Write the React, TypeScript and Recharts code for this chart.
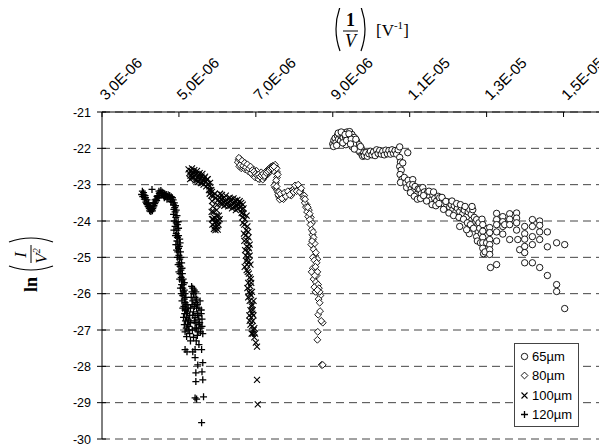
import { ScatterChart, Scatter, XAxis, YAxis, CartesianGrid, Legend } from "recharts";

// x values are in units of 1E-06 V^-1, y values are ln(I/V^2)
const s65: [number, number][] = [
  [9.0, -21.88], [9.03, -21.78], [9.06, -21.72], [9.08, -21.85], [9.12, -21.65], [9.15, -21.75],
  [9.18, -21.62], [9.2, -21.8], [9.24, -21.6], [9.27, -21.7], [9.3, -21.58], [9.33, -21.68],
  [9.37, -21.55], [9.4, -21.65], [9.44, -21.54], [9.46, -21.72], [9.5, -21.62], [9.52, -21.82],
  [9.56, -21.7], [9.58, -21.92], [9.62, -21.8], [9.64, -22.0], [9.68, -21.9], [9.7, -22.1],
  [9.74, -22.0], [9.76, -22.18], [9.8, -22.12], [9.4, -21.8], [9.34, -21.9], [9.5, -21.95],
  [9.02, -21.95], [9.1, -21.92], [9.14, -21.58], [9.22, -21.55], [9.26, -21.85], [9.32, -21.62],
  [9.36, -21.78], [9.42, -21.6], [9.48, -21.75], [9.54, -21.88], [9.6, -21.75], [9.66, -22.05],
  [9.72, -21.95], [9.78, -22.22], [9.46, -21.88], [9.56, -22.02],
  [9.82, -22.2], [9.86, -22.12], [9.9, -22.22], [9.94, -22.15], [9.98, -22.08], [10.02, -22.18],
  [10.06, -22.1], [10.1, -22.2], [10.14, -22.04], [10.18, -22.14], [10.22, -22.06], [10.26, -22.16],
  [10.3, -22.08], [10.34, -22.18], [10.38, -22.05], [10.42, -22.15], [10.46, -22.06], [10.5, -22.16],
  [10.54, -22.04], [10.58, -22.14], [10.62, -22.06], [10.66, -22.16], [10.7, -22.04], [10.74, -21.96],
  [10.95, -22.12], [10.74, -22.25], [10.76, -22.38], [10.74, -22.5], [10.78, -22.6], [10.75, -22.72],
  [10.8, -22.85], [10.76, -22.94], [10.82, -22.4], [10.86, -22.8], [10.9, -22.95], [10.92, -23.08],
  [10.96, -22.88], [11.0, -23.0], [11.04, -23.12], [11.08, -22.86], [11.08, -23.0], [11.1, -23.18],
  [11.14, -23.05], [11.18, -23.27], [11.22, -23.12], [11.26, -23.13], [11.3, -23.25], [11.34, -23.08],
  [11.38, -23.2], [11.42, -23.32], [11.46, -23.22], [11.52, -23.33], [11.56, -23.42], [11.6, -23.28],
  [11.65, -23.38], [11.7, -23.45], [11.74, -23.32], [11.78, -23.36], [11.82, -23.5], [11.86, -23.42],
  [11.9, -23.55], [11.96, -23.6], [12.0, -23.48], [12.04, -23.62], [12.08, -23.55], [12.12, -23.69],
  [12.16, -23.58], [12.2, -23.75], [12.24, -23.65], [12.3, -23.74], [12.34, -23.62], [12.38, -23.8],
  [12.42, -23.7], [12.48, -23.88], [12.52, -23.75], [12.56, -23.68], [12.6, -23.82], [12.64, -23.69],
  [12.68, -23.9], [12.7, -24.05], [12.74, -23.96], [12.74, -24.15], [12.78, -24.3], [12.74, -24.43],
  [11.02, -23.22], [11.12, -23.32], [11.2, -23.4], [11.28, -23.38], [11.36, -23.3], [11.44, -23.45],
  [11.5, -23.18], [11.58, -23.55], [11.62, -23.2], [11.68, -23.58], [11.76, -23.52], [11.84, -23.35],
  [11.88, -23.68], [11.94, -23.46], [12.02, -23.78], [12.1, -23.45], [12.14, -23.85], [12.22, -23.52],
  [12.28, -23.9], [12.32, -23.55], [12.4, -23.95], [12.44, -23.6], [12.5, -24.05], [12.58, -24.1],
  [12.62, -23.6], [12.66, -24.2], [12.76, -24.55], [12.8, -24.05], [12.84, -24.6], [12.88, -23.95],
  [12.92, -24.9], [12.96, -24.2], [13.0, -24.4], [12.3, -24.15], [12.55, -24.35],
  [12.82, -24.2], [12.86, -24.35], [12.48, -24.24], [12.9, -24.1], [12.9, -24.28], [12.9, -24.45],
  [12.9, -24.6], [12.9, -24.75], [13.0, -24.6], [12.96, -24.85], [13.08, -24.18], [13.08, -24.32],
  [13.08, -24.51], [13.08, -24.65], [13.08, -24.79], [13.08, -24.92], [13.1, -25.28], [13.26, -23.79],
  [13.26, -23.96], [13.26, -24.1], [13.26, -24.3], [13.26, -24.55], [13.26, -25.2], [13.42, -23.88],
  [13.42, -24.02], [13.42, -24.15], [13.42, -24.36], [13.47, -24.1], [13.6, -23.8], [13.6, -23.95],
  [13.6, -24.1], [13.6, -24.51], [13.78, -23.78], [13.78, -23.92], [13.78, -24.05], [13.78, -24.25],
  [13.81, -24.51], [13.86, -24.79], [13.99, -24.15], [13.99, -24.35], [13.99, -24.5], [13.99, -24.7],
  [13.99, -24.87], [13.99, -25.15], [14.19, -23.96], [14.19, -24.15], [14.19, -24.43], [14.19, -24.65],
  [14.19, -25.15], [14.38, -24.0], [14.38, -24.12], [14.38, -24.3], [14.38, -24.51], [14.38, -25.28],
  [14.58, -24.3], [14.58, -24.71], [14.58, -25.5], [14.82, -24.6], [15.03, -24.65], [14.82, -25.75],
  [14.82, -25.94], [15.03, -26.41],
];

const s80: [number, number][] = [
  [6.55, -22.31], [6.58, -22.4], [6.6, -22.3], [6.63, -22.45], [6.66, -22.38], [6.7, -22.5],
  [6.73, -22.42], [6.76, -22.55], [6.8, -22.48], [6.84, -22.6], [6.88, -22.55], [6.92, -22.65],
  [6.96, -22.7], [7.0, -22.75], [7.04, -22.68], [7.08, -22.78], [7.12, -22.72], [7.16, -22.8],
  [7.2, -22.75], [7.24, -22.68], [7.28, -22.62], [7.32, -22.58], [7.36, -22.55], [7.4, -22.5],
  [7.44, -22.48], [7.48, -22.55], [7.52, -22.52], [7.55, -22.65], [6.62, -22.55], [6.9, -22.72],
  [7.1, -22.85], [7.3, -22.72], [7.55, -22.8], [7.52, -22.95], [7.5, -23.08], [7.55, -23.15],
  [6.53, -22.38], [6.57, -22.5], [6.61, -22.36], [6.65, -22.52], [6.68, -22.44], [6.72, -22.58],
  [6.75, -22.46], [6.79, -22.62], [6.83, -22.52], [6.87, -22.68], [6.94, -22.58], [6.98, -22.8],
  [7.02, -22.62], [7.06, -22.84], [7.14, -22.66], [7.18, -22.86], [7.22, -22.8], [7.26, -22.74],
  [7.34, -22.65], [7.38, -22.62], [7.42, -22.58], [7.46, -22.62], [7.5, -22.45], [7.54, -22.55],
  [6.56, -22.26], [6.59, -22.46], [6.64, -22.34], [6.67, -22.48], [6.71, -22.4], [6.74, -22.52],
  [6.78, -22.44], [6.82, -22.56], [6.86, -22.5], [6.91, -22.6], [6.95, -22.64], [6.99, -22.7],
  [7.03, -22.74], [7.07, -22.72], [7.11, -22.78], [7.15, -22.74], [7.19, -22.7], [7.23, -22.76],
  [7.27, -22.68], [7.31, -22.64], [7.35, -22.6], [7.39, -22.56], [7.43, -22.54], [7.47, -22.5],
  [7.57, -22.72], [7.53, -22.88], [7.48, -23.02], [7.54, -23.05], [7.57, -23.2], [7.6, -23.34],
  [7.58, -23.28], [7.62, -23.41], [7.66, -23.35], [7.7, -23.27], [7.75, -23.3], [7.8, -23.22],
  [7.85, -23.25], [7.9, -23.18], [7.95, -23.15], [8.0, -23.1], [8.04, -23.14], [8.08, -23.05],
  [8.12, -23.1], [8.16, -23.15], [7.6, -23.2], [7.72, -23.4], [7.92, -23.3], [8.2, -23.25],
  [7.64, -23.25], [7.68, -23.38], [7.74, -23.22], [7.78, -23.32], [7.83, -23.18], [7.88, -23.28],
  [7.98, -23.2], [8.02, -23.02], [8.06, -23.18], [8.1, -23.0], [8.14, -23.2], [8.18, -23.1],
  [8.22, -23.3], [8.26, -23.3], [8.32, -23.55], [8.38, -23.7], [8.43, -23.9], [8.46, -24.05],
  [8.24, -23.38], [8.27, -23.5], [8.3, -23.62], [8.33, -23.75], [8.36, -23.88], [8.4, -23.96],
  [8.42, -24.1], [8.45, -24.24], [8.47, -24.38], [8.48, -24.51], [8.44, -24.65], [8.53, -24.62],
  [8.49, -24.3], [8.5, -24.45], [8.46, -24.55], [8.54, -24.95], [8.6, -25.05], [8.48, -25.3],
  [8.5, -24.78], [8.56, -24.87], [8.48, -25.0], [8.52, -25.08], [8.58, -25.15], [8.55, -25.26],
  [8.45, -25.4], [8.58, -25.5], [8.5, -25.6], [8.56, -25.68], [8.62, -25.75], [8.52, -25.82],
  [8.6, -25.4], [8.53, -25.5], [8.64, -25.85], [8.55, -25.95], [8.68, -26.05], [8.63, -26.15],
  [8.66, -25.95], [8.6, -25.9], [8.66, -26.25], [8.62, -26.58], [8.74, -26.8], [8.7, -26.75],
  [8.67, -26.48], [8.61, -27.05], [8.6, -27.27], [8.71, -27.96], [8.74, -27.96], [8.28, -23.4],
  [8.35, -23.62], [8.4, -23.8],
];

const s100: [number, number][] = [
  [5.27, -22.68], [5.31, -22.62], [5.35, -22.72], [5.38, -22.66], [5.42, -22.75], [5.45, -22.7],
  [5.49, -22.8], [5.52, -22.74], [5.56, -22.84], [5.59, -22.78], [5.63, -22.88], [5.66, -22.82],
  [5.7, -22.92], [5.73, -22.86], [5.76, -22.98], [5.79, -23.05], [5.33, -22.82], [5.47, -22.88],
  [5.61, -22.95], [5.3, -22.75], [5.25, -22.58], [5.29, -22.85], [5.34, -22.55], [5.37, -22.8],
  [5.4, -22.6], [5.43, -22.88], [5.47, -22.62], [5.5, -22.92], [5.54, -22.68], [5.57, -22.96],
  [5.61, -22.7], [5.64, -23.0], [5.68, -22.78], [5.71, -23.05], [5.75, -22.85], [5.78, -23.15],
  [5.81, -22.95], [5.84, -23.15], [5.8, -23.25], [5.82, -23.15], [5.84, -23.3], [5.86, -23.45],
  [5.88, -23.6], [5.9, -23.75], [5.92, -23.9], [5.94, -24.05], [5.96, -24.18], [6.0, -24.15],
  [6.02, -24.0], [6.04, -23.85], [5.98, -23.7], [6.0, -23.55], [5.87, -24.1], [5.91, -24.22],
  [5.85, -23.75], [5.89, -23.95], [5.93, -24.15], [5.97, -24.0], [5.99, -23.85], [6.03, -24.1],
  [6.06, -23.95], [5.95, -24.25], [6.01, -24.24], [5.86, -23.95], [6.05, -23.35], [6.1, -23.4],
  [6.15, -23.38], [6.2, -23.45], [6.25, -23.42], [6.3, -23.48], [6.35, -23.45], [6.4, -23.52],
  [6.45, -23.5], [6.5, -23.58], [6.55, -23.55], [6.6, -23.62], [6.64, -23.68], [6.08, -23.52],
  [6.18, -23.58], [6.28, -23.6], [6.38, -23.65], [6.48, -23.7], [5.95, -23.38], [5.9, -23.3],
  [6.12, -23.28], [6.32, -23.36], [6.52, -23.42], [6.62, -23.5], [5.86, -23.2], [5.93, -23.25],
  [6.07, -23.25], [6.14, -23.52], [6.22, -23.3], [6.24, -23.55], [6.34, -23.58], [6.42, -23.38],
  [6.44, -23.62], [6.54, -23.66], [6.58, -23.45], [6.66, -23.55], [6.68, -23.65], [6.63, -23.78],
  [6.02, -23.42], [6.16, -23.48], [6.26, -23.5], [6.36, -23.4], [6.46, -23.44], [6.56, -23.48],
  [6.68, -23.8], [6.72, -23.95], [6.7, -24.1], [6.75, -24.25], [6.73, -24.4], [6.78, -24.55],
  [6.76, -24.7], [6.8, -24.85], [6.78, -25.0], [6.82, -25.12], [6.8, -24.3], [6.84, -24.65],
  [6.72, -24.8], [6.77, -25.2], [6.71, -25.26], [6.65, -23.9], [6.76, -23.85], [6.66, -24.05],
  [6.78, -24.15], [6.69, -24.35], [6.81, -24.45], [6.7, -24.55], [6.82, -24.75], [6.74, -24.95],
  [6.84, -24.95], [6.75, -25.1], [6.86, -25.2], [6.76, -25.35], [6.82, -25.45], [6.88, -25.7],
  [6.78, -25.85], [6.9, -25.95], [6.8, -26.1], [6.92, -26.45], [6.84, -26.75], [6.94, -26.6],
  [6.86, -26.85], [6.96, -26.95], [6.89, -27.1], [6.98, -27.1], [6.79, -25.4], [6.84, -25.55],
  [6.8, -25.7], [6.86, -25.8], [6.82, -25.95], [6.88, -26.05], [6.84, -26.2], [6.9, -26.3],
  [6.86, -26.45], [6.91, -26.55], [6.88, -26.65], [6.92, -26.75], [6.9, -26.9], [6.94, -27.0],
  [6.92, -27.1], [6.96, -27.2], [7.0, -27.35], [7.03, -27.46], [6.85, -26.0], [6.89, -26.35],
  [6.83, -26.6], [6.87, -25.6], [6.94, -26.2], [7.03, -28.37], [7.05, -29.05],
];

const s120: [number, number][] = [
  [4.03, -23.27], [4.06, -23.33], [4.08, -23.22], [4.1, -23.4], [4.12, -23.3], [4.14, -23.48],
  [4.17, -23.42], [4.18, -23.55], [4.21, -23.5], [4.22, -23.62], [4.24, -23.72], [4.25, -23.58],
  [4.26, -23.67], [4.29, -23.69], [4.3, -23.58], [4.32, -23.66], [4.33, -23.62], [4.34, -23.5],
  [4.37, -23.52], [4.38, -23.42], [4.41, -23.4], [4.43, -23.32], [4.45, -23.3], [4.48, -23.18],
  [4.49, -23.24], [4.51, -23.22], [4.55, -23.26], [4.56, -23.2], [4.6, -23.3], [4.63, -23.25],
  [4.65, -23.33], [4.7, -23.34], [4.72, -23.28], [4.74, -23.36], [4.78, -23.4], [4.8, -23.33],
  [4.82, -23.48], [4.85, -23.42], [4.86, -23.56], [4.89, -23.63], [4.3, -23.13],
  [4.05, -23.18], [4.09, -23.28], [4.13, -23.36], [4.16, -23.52], [4.2, -23.6], [4.23, -23.66],
  [4.27, -23.74], [4.31, -23.72], [4.35, -23.58], [4.39, -23.48], [4.42, -23.44], [4.46, -23.36],
  [4.5, -23.3], [4.53, -23.16], [4.58, -23.22], [4.62, -23.36], [4.67, -23.27], [4.69, -23.4],
  [4.76, -23.3], [4.79, -23.46], [4.83, -23.36], [4.88, -23.5], [4.91, -23.58], [4.87, -23.68],
  [4.93, -23.7], [4.9, -23.75], [4.92, -23.9], [4.93, -24.05], [4.9, -24.15], [4.95, -24.25],
  [4.93, -24.35], [4.96, -24.45], [4.95, -24.55], [4.97, -24.65], [4.99, -24.75], [4.97, -24.85],
  [5.0, -24.95], [5.02, -25.05], [5.01, -25.15], [5.03, -25.25], [5.05, -25.35], [5.03, -25.45],
  [5.06, -25.55], [5.08, -25.65], [5.07, -25.75], [5.1, -25.85], [5.12, -25.95], [5.1, -26.05],
  [5.14, -26.15], [5.16, -26.25], [5.13, -26.35], [5.18, -26.45], [5.15, -26.55], [5.2, -26.65],
  [5.17, -26.75], [5.22, -26.85], [5.19, -26.95], [5.16, -26.45], [5.21, -26.3], [4.96, -24.1],
  [4.99, -24.4], [5.01, -24.7], [5.05, -25.0], [5.08, -25.3], [5.11, -25.6], [5.14, -25.9],
  [5.18, -26.1], [5.22, -26.5], [5.24, -26.7], [4.86, -23.82], [4.95, -23.85], [4.88, -24.0],
  [4.98, -24.02], [4.87, -24.25], [4.99, -24.2], [4.91, -24.4], [5.02, -24.5], [4.92, -24.65],
  [5.03, -24.6], [4.94, -24.8], [5.04, -24.85], [4.96, -25.0], [5.07, -25.15], [4.98, -25.2],
  [5.09, -25.45], [5.0, -25.4], [5.11, -25.75], [5.02, -25.6], [5.14, -25.7], [5.04, -25.85],
  [5.16, -26.0], [5.06, -26.0], [5.18, -26.3], [5.08, -26.2], [5.2, -26.55], [5.1, -26.4],
  [5.24, -26.4], [5.12, -26.65], [5.26, -26.75], [5.14, -26.85], [5.24, -27.0], [5.16, -27.05],
  [5.28, -27.1], [5.3, -26.8], [5.33, -25.8], [5.36, -25.85], [5.4, -25.9], [5.38, -26.0],
  [5.42, -26.1], [5.36, -26.2], [5.44, -26.25], [5.4, -26.35], [5.46, -26.4], [5.38, -26.5],
  [5.48, -26.55], [5.42, -26.65], [5.5, -26.7], [5.44, -26.8], [5.52, -26.85], [5.46, -26.95],
  [5.5, -27.05], [5.55, -26.2], [5.58, -26.45], [5.6, -26.7], [5.57, -26.95], [5.62, -27.1],
  [5.32, -26.1], [5.3, -26.4], [5.28, -26.6], [5.26, -26.9], [5.34, -25.95], [5.44, -25.95],
  [5.46, -26.15], [5.34, -26.3], [5.48, -26.3], [5.36, -26.6], [5.52, -26.6], [5.4, -26.75],
  [5.54, -26.8], [5.42, -26.95], [5.48, -27.15], [5.56, -27.05], [5.6, -26.9], [5.58, -26.55],
  [5.52, -26.4], [5.35, -27.0], [5.38, -27.2], [5.45, -27.3], [5.52, -27.4], [5.3, -27.3],
  [5.2, -27.18], [5.16, -27.54], [5.21, -27.6], [5.36, -27.6], [5.42, -27.54], [5.59, -27.54],
  [5.42, -27.76], [5.49, -27.96], [5.62, -27.9], [5.44, -28.18], [5.6, -28.15], [5.44, -28.42],
  [5.62, -28.37], [5.42, -28.87], [5.46, -28.9], [5.64, -28.84], [5.59, -29.55],
];

const seriesNames = ["65µm", "80µm", "100µm", "120µm"];
const xTicks = [3, 5, 7, 9, 11, 13, 15];
const yTicks = [-30, -29, -28, -27, -26, -25, -24, -23, -22, -21];

const toPts = (a: [number, number][]) => a.map(([x, y]) => ({ x, y }));

const fmtX = (v: number) =>
  v >= 10 ? `${(v / 10).toFixed(1).replace(".", ",")}E-05` : `${v.toFixed(1).replace(".", ",")}E-06`;

const FONT = "'Liberation Sans', Arial, sans-serif";
const SERIF = "'Liberation Serif', 'Times New Roman', serif";

const Ring = (p: any) => <circle cx={p.cx} cy={p.cy} r={3.2} fill="#fff" stroke="#000" strokeWidth={0.9} />;
const Diamond = (p: any) => (
  <path
    d={`M${p.cx} ${p.cy - 3.4}L${p.cx + 3.4} ${p.cy}L${p.cx} ${p.cy + 3.4}L${p.cx - 3.4} ${p.cy}Z`}
    fill="#fff"
    stroke="#000"
    strokeWidth={0.9}
  />
);
const Cross = (p: any) => (
  <path
    d={`M${p.cx - 3} ${p.cy - 3}L${p.cx + 3} ${p.cy + 3}M${p.cx + 3} ${p.cy - 3}L${p.cx - 3} ${p.cy + 3}`}
    stroke="#000"
    strokeWidth={1.1}
  />
);
const Plus = (p: any) => (
  <path
    d={`M${p.cx - 3.5} ${p.cy}L${p.cx + 3.5} ${p.cy}M${p.cx} ${p.cy - 3.5}L${p.cx} ${p.cy + 3.5}`}
    stroke="#000"
    strokeWidth={1.3}
  />
);
const shapes = [Ring, Diamond, Cross, Plus];

const XTick = ({ x, y, payload }: any) => (
  <g>
    <line x1={x} y1={y} x2={x} y2={y + 5} stroke="#000" />
    <text
      x={x + 4}
      y={y - 11}
      transform={`rotate(-45 ${x + 4} ${y - 11})`}
      fontSize={15}
      fontFamily={FONT}
      fill="#000"
    >
      {fmtX(payload.value)}
    </text>
  </g>
);

const YTick = ({ x, y, payload }: any) => (
  <g>
    <line x1={x - 5} y1={y} x2={x + 4} y2={y} stroke="#000" />
    <text x={x - 11} y={y + 4.5} textAnchor="end" fontSize={12.5} fontFamily={FONT} fill="#000">
      {payload.value}
    </text>
  </g>
);

const LegendBox = () => (
  <div
    style={{
      border: "1px solid #444",
      background: "#fff",
      padding: "3px 5px 2px 5px",
      fontFamily: FONT,
      fontSize: 13,
      lineHeight: "19.3px",
      color: "#000",
      width: 53,
    }}
  >
    {seriesNames.map((n, i) => {
      const S = shapes[i];
      return (
        <div key={n} style={{ display: "flex", alignItems: "center", whiteSpace: "nowrap" }}>
          <svg width={9} height={9} style={{ marginRight: 3 }}>
            <S cx={4.5} cy={4.5} />
          </svg>
          {n}
        </div>
      );
    })}
  </div>
);

export default function App() {
  const sets = [s65, s80, s100, s120];
  return (
    <div style={{ position: "relative", width: 599, height: 438 }}>
      <ScatterChart width={599} height={438} margin={{ top: 0, right: 5, bottom: 7, left: 0 }}>
        <CartesianGrid horizontal vertical={false} stroke="#444" strokeDasharray="8 5" />
        <XAxis
          dataKey="x"
          type="number"
          orientation="top"
          domain={[3, 16]}
          ticks={xTicks}
          height={104}
          tickSize={0}
          tickMargin={0}
          tickLine={false}
          axisLine={{ stroke: "#000" }}
          tick={<XTick />}
          interval={0}
        />
        <YAxis
          dataKey="y"
          type="number"
          domain={[-30, -21]}
          ticks={yTicks}
          width={94}
          tickSize={0}
          tickMargin={0}
          tickLine={false}
          axisLine={{ stroke: "#000" }}
          tick={<YTick />}
          interval={0}
        />
        <Legend
          layout="horizontal"
          verticalAlign="middle"
          align="center"
          wrapperStyle={{ left: 506, top: 335, width: 65 }}
          content={<LegendBox />}
        />
        {sets.map((s, i) => (
          <Scatter
            key={seriesNames[i]}
            name={seriesNames[i]}
            data={toPts(s)}
            shape={shapes[i]}
            isAnimationActive={false}
          />
        ))}
      </ScatterChart>
      <svg
        width={599}
        height={438}
        style={{ position: "absolute", left: 0, top: 0, pointerEvents: "none", overflow: "visible" }}
      >
        <g transform="translate(325 0)" fontFamily={SERIF} fill="#000">
          <path d="M7 -1 Q-1 21 7 43" fill="none" stroke="#000" strokeWidth={1.2} />
          <text x={17.5} y={18} textAnchor="middle" fontSize={18} fontWeight="bold">1</text>
          <line x1={10} y1={23} x2={25} y2={23} stroke="#000" strokeWidth={1} />
          <text x={17.5} y={39} textAnchor="middle" fontSize={18} fontStyle="italic">V</text>
          <path d="M28 -1 Q36 21 28 43" fill="none" stroke="#000" strokeWidth={1.2} />
          <text x={43} y={28} fontSize={17}>
            [V<tspan fontSize={11} dy={-7}>-1</tspan><tspan dy={7}>]</tspan>
          </text>
        </g>
        <g transform="translate(23 252) rotate(-90)" fontFamily={SERIF} fill="#000">
          <text x={-32} y={6} fontSize={18} fontWeight="bold">ln</text>
          <path d="M-6 -22 Q-14 0 -6 22" fill="none" stroke="#000" strokeWidth={1.2} />
          <text x={5} y={-5} textAnchor="middle" fontSize={17} fontStyle="italic">I</text>
          <line x1={-3} y1={0} x2={15} y2={0} stroke="#000" strokeWidth={1} />
          <text x={4} y={16} textAnchor="middle" fontSize={17} fontStyle="italic">
            V<tspan fontSize={10} dy={-7}>2</tspan>
          </text>
          <path d="M18 -22 Q26 0 18 22" fill="none" stroke="#000" strokeWidth={1.2} />
        </g>
      </svg>
    </div>
  );
}
